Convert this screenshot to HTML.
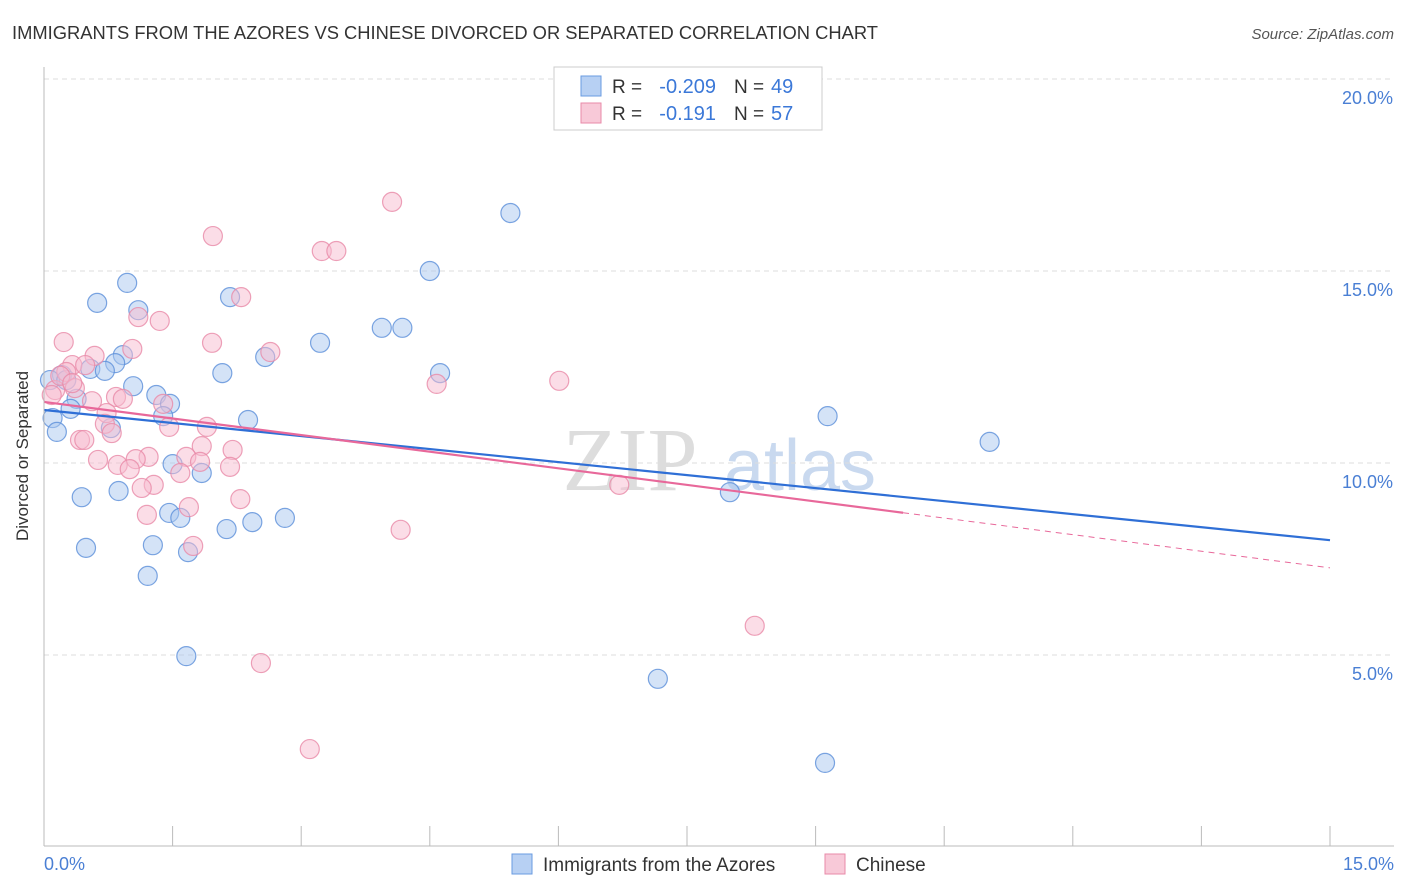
<!DOCTYPE html>
<html><head><meta charset="utf-8"><style>
body{margin:0;background:#fff;font-family:"Liberation Sans",sans-serif}
svg{display:block}
</style></head><body>
<svg id="c" width="1406" height="892">
<text x="12" y="39" font-size="18" fill="#333" textLength="866" lengthAdjust="spacingAndGlyphs">IMMIGRANTS FROM THE AZORES VS CHINESE DIVORCED OR SEPARATED CORRELATION CHART</text>
<text x="1394" y="39" font-size="15" fill="#555" font-style="italic" text-anchor="end">Source: ZipAtlas.com</text>
<text x="28" y="456" font-size="17" fill="#333" text-anchor="middle" transform="rotate(-90 28 456)">Divorced or Separated</text>
<text x="630" y="490" font-size="90" fill="#ddd" font-family="Liberation Serif,serif" text-anchor="middle">ZIP</text>
<text x="800" y="490" font-size="72" fill="#c9d9ef" text-anchor="middle">atlas</text>
<g id="grid"></g><g id="ticks"></g><g id="pts"></g><g id="lines"></g>
<line x1="44" y1="67" x2="44" y2="846" stroke="#bbb"/>
<line x1="44" y1="846" x2="1394" y2="846" stroke="#bbb"/>
<text x="44" y="870" font-size="18" fill="#4a7fd4">0.0%</text>
<text x="1394" y="870" font-size="18" fill="#4a7fd4" text-anchor="end">15.0%</text>
<g>
<rect x="554" y="67" width="268" height="63" fill="#fff" stroke="#ccc"/>
<rect x="581" y="76" width="20" height="20" fill="#b7d0f3" stroke="#6a9be0"/>
<rect x="581" y="103" width="20" height="20" fill="#f8c9d8" stroke="#e88aa8"/>
<text x="612" y="93" font-size="19" fill="#333">R =</text>
<text x="716" y="93" font-size="20" fill="#3b78d8" text-anchor="end">-0.209</text>
<text x="734" y="93" font-size="19" fill="#333">N =</text>
<text x="771" y="93" font-size="20" fill="#3b78d8">49</text>
<text x="612" y="120" font-size="19" fill="#333">R =</text>
<text x="716" y="120" font-size="20" fill="#3b78d8" text-anchor="end">-0.191</text>
<text x="734" y="120" font-size="19" fill="#333">N =</text>
<text x="771" y="120" font-size="20" fill="#3b78d8">57</text>
</g>
<g>
<rect x="512" y="854" width="20" height="20" fill="#b7d0f3" stroke="#6a9be0"/>
<text x="543" y="871" font-size="19" fill="#333">Immigrants from the Azores</text>
<rect x="825" y="854" width="20" height="20" fill="#f8c9d8" stroke="#e88aa8"/>
<text x="856" y="871" font-size="19" fill="#333">Chinese</text>
</g>
</svg>
<script>
const yTicks=[5,10,15,20];
const yTickLabels=["5.0%","10.0%","15.0%","20.0%"];
const xTicks=[0,1.5,3,4.5,6,7.5,9,10.5,12,13.5,15];
const blueX=[5.44,4.50,0.97,0.62,1.10,2.17,3.22,3.94,4.18,0.92,0.83,2.58,0.54,0.71,0.21,2.08,4.62,1.04,1.31,1.47,0.38,0.31,1.39,2.38,0.10,0.15,0.78,9.14,11.03,1.50,1.84,8.00,0.44,0.87,1.46,1.59,2.81,2.43,2.13,0.49,1.27,1.68,1.21,1.66,7.16,9.11,0.07,0.26];
const blueY=[16.51,15.0,14.69,14.17,13.98,14.32,13.13,13.52,13.52,12.81,12.60,12.76,12.45,12.40,12.29,12.34,12.34,12.0,11.77,11.54,11.67,11.41,11.22,11.12,11.17,10.81,10.91,11.22,10.55,9.97,9.74,9.24,9.11,9.27,8.70,8.57,8.57,8.46,8.28,7.79,7.86,7.68,7.06,4.97,4.38,2.19,12.16,12.16];
const pinkX=[4.06,1.97,3.24,3.41,2.30,1.35,1.10,0.23,1.96,1.03,2.64,0.59,0.33,0.48,0.26,6.01,4.58,0.36,0.13,0.84,0.56,0.92,1.39,0.73,1.46,1.90,0.71,0.79,0.42,0.47,1.84,2.20,1.22,0.63,1.07,1.66,0.86,1.00,1.59,2.17,1.82,6.71,1.28,1.14,2.29,1.69,1.20,4.16,1.74,8.29,2.53,3.10,0.19,0.09,0.33];
const pinkY=[16.80,15.91,15.52,15.52,14.32,13.70,13.80,13.15,13.13,12.97,12.89,12.79,12.55,12.55,12.37,12.14,12.06,11.95,11.90,11.72,11.61,11.67,11.54,11.30,10.94,10.94,11.02,10.78,10.60,10.60,10.44,10.34,10.16,10.08,10.10,10.16,9.95,9.84,9.74,9.90,10.03,9.43,9.43,9.35,9.06,8.85,8.65,8.26,7.84,5.76,4.79,2.55,12.27,11.77,12.08];
const blueTrend=[11.38,7.99];
const pinkTrend=[11.59,7.27];
const pinkSolidEnd=10.02;
const NS="http://www.w3.org/2000/svg";
const sx=v=>44+v*(1286/15);
const sy=v=>847-v*38.4;
function mk(t,a,p){const e=document.createElementNS(NS,t);for(const k in a)e.setAttribute(k,a[k]);p.appendChild(e);return e;}
const grid=document.getElementById('grid');
yTicks.forEach((v,i)=>{
 const l=mk('line',{x1:44,x2:1394,y1:sy(v),y2:sy(v),stroke:'#ddd','stroke-dasharray':'5,4'},grid);
 
 
 const t=mk('text',{x:1393,y:sy(v)+25,'font-size':18,fill:'#4a7fd4','text-anchor':'end'},grid);
 t.textContent=yTickLabels[i];
 
 
});
const tk=document.getElementById('ticks');
xTicks.forEach(v=>{
 const l=mk('line',{x1:sx(v),x2:sx(v),y1:826,y2:846,stroke:'#bbb'},tk);
 
 
});
const pts=document.getElementById('pts');
function series(X,Y,fill,stroke,name){
 X.forEach((x,i)=>{
  const c=mk('circle',{cx:sx(x),cy:sy(Y[i]),r:9.5,fill:fill,'fill-opacity':0.5,stroke:stroke,'stroke-opacity':0.8,'stroke-width':1.2},pts);
  
  
 });
}
series(blueX,blueY,'#aac8f0','#5b8fd9','point-azores');
series(pinkX,pinkY,'#f7bcd0','#e88aa8','point-chinese');
const ln=document.getElementById('lines');
const tb=(a,x)=>a[0]+(a[1]-a[0])*x/15;
let l1=mk('line',{x1:sx(0),y1:sy(blueTrend[0]),x2:sx(15),y2:sy(blueTrend[1]),stroke:'#2f6fd6','stroke-width':2.2},ln);


let l2=mk('line',{x1:sx(0),y1:sy(pinkTrend[0]),x2:sx(pinkSolidEnd),y2:sy(tb(pinkTrend,pinkSolidEnd)),stroke:'#e8689a','stroke-width':2.2},ln);


let l3=mk('line',{x1:sx(pinkSolidEnd),y1:sy(tb(pinkTrend,pinkSolidEnd)),x2:sx(15),y2:sy(pinkTrend[1]),stroke:'#e8689a','stroke-width':1,'stroke-dasharray':'6,5'},ln);


</script>
</body></html>
